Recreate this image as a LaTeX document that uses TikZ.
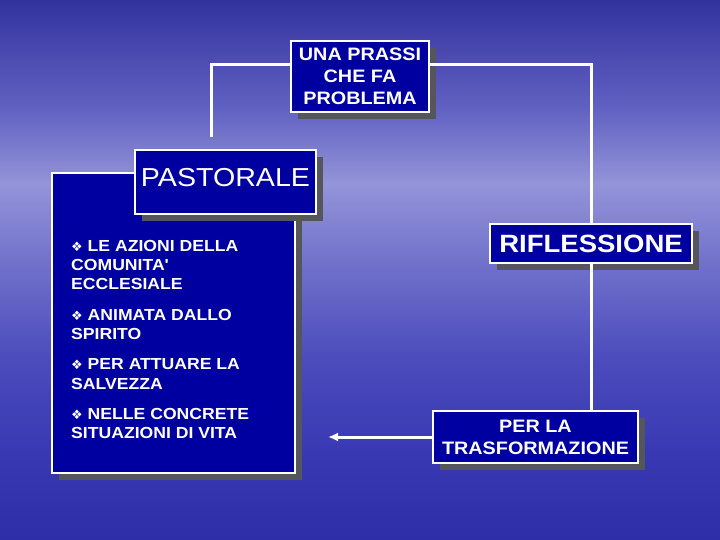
\documentclass[tikz,border=0pt]{standalone}
\usepackage{fontspec}
\setmainfont[FakeStretch=1.1]{Liberation Sans}
\newfontfamily\symfont{DejaVu Sans}
\usetikzlibrary{arrows.meta,shadows}
\definecolor{boxblue}{RGB}{0,0,160}
\definecolor{shadowgray}{RGB}{85,85,92}
% sky: 25bp = bottom of picture, 75bp = top
\pgfdeclareverticalshading{sky}{100bp}{rgb(0bp)=(0.18,0.18,0.66); rgb(25bp)=(0.18,0.18,0.66); rgb(33bp)=(0.22,0.22,0.7); rgb(42bp)=(0.3,0.3,0.74); rgb(51bp)=(0.45,0.45,0.8); rgb(58bp)=(0.58,0.58,0.85); rgb(65bp)=(0.38,0.38,0.76); rgb(75bp)=(0.2,0.2,0.62); rgb(100bp)=(0.2,0.2,0.62)}
\tikzset{
  box/.style={draw=white, line width=2pt, fill=boxblue, text=white, inner sep=0pt, align=center,
    drop shadow={shadow xshift=7pt, shadow yshift=-7pt, fill=shadowgray, opacity=1}},
  items/.style={text=white, font=\bfseries\fontsize{16}{19.3}\selectfont, align=left, inner sep=0pt},
  link/.style={draw=white, line width=3pt},
}
\newcommand{\bul}{{\symfont\fontsize{13}{13}\selectfont ❖}\ }

\begin{document}
\begin{tikzpicture}[x=1pt, y=-1pt]
  \begin{scope}[y=1pt]
    \shade[shading=sky] (0,-540) rectangle (720,0);
  \end{scope}
  \useasboundingbox (0,0) rectangle (720,540);
  % boxes
  \node[box, minimum width=138, minimum height=71, font=\bfseries\fontsize{18}{22}\selectfont] (prassi) at (360,76.5) {UNA PRASSI\\CHE FA\\PROBLEMA};
  \node[box, minimum width=243, minimum height=300] (pastbox) at (173.5,323) {};
  \node[box, minimum width=181, minimum height=64, text depth=9pt, font=\fontsize{26}{30}\selectfont] (pastorale) at (225.5,182) {PASTORALE};
  \node[box, minimum width=202, minimum height=39, font=\bfseries\fontsize{25}{30}\selectfont] (rifl) at (591,243.5) {RIFLESSIONE};
  \node[box, minimum width=205, minimum height=52, font=\bfseries\fontsize{18}{22}\selectfont] (trasf) at (535.5,437) {PER LA\\TRASFORMAZIONE};
  \node[items, anchor=north west] (azioni) at (71,240) {\bul LE AZIONI DELLA\\COMUNITA\textquotesingle\\ECCLESIALE\\[11pt]
    \bul ANIMATA DALLO\\SPIRITO\\[11pt]
    \bul PER ATTUARE LA\\SALVEZZA\\[11pt]
    \bul NELLE CONCRETE\\SITUAZIONI DI VITA};
  % connectors
  \coordinate (lend) at (211,137);
  \coordinate (aend) at (328,437);
  \draw[link] ([yshift=11.5pt]prassi.west) -| (lend);
  \draw[link] ([yshift=11.5pt]prassi.east) -| (rifl.north);
  \draw[link] (rifl.south) -- (rifl.south |- trasf.north);
  \draw[link, -{Latex[length=10pt,width=9pt]}] (trasf.west) -- (aend);
\end{tikzpicture}
\end{document}
